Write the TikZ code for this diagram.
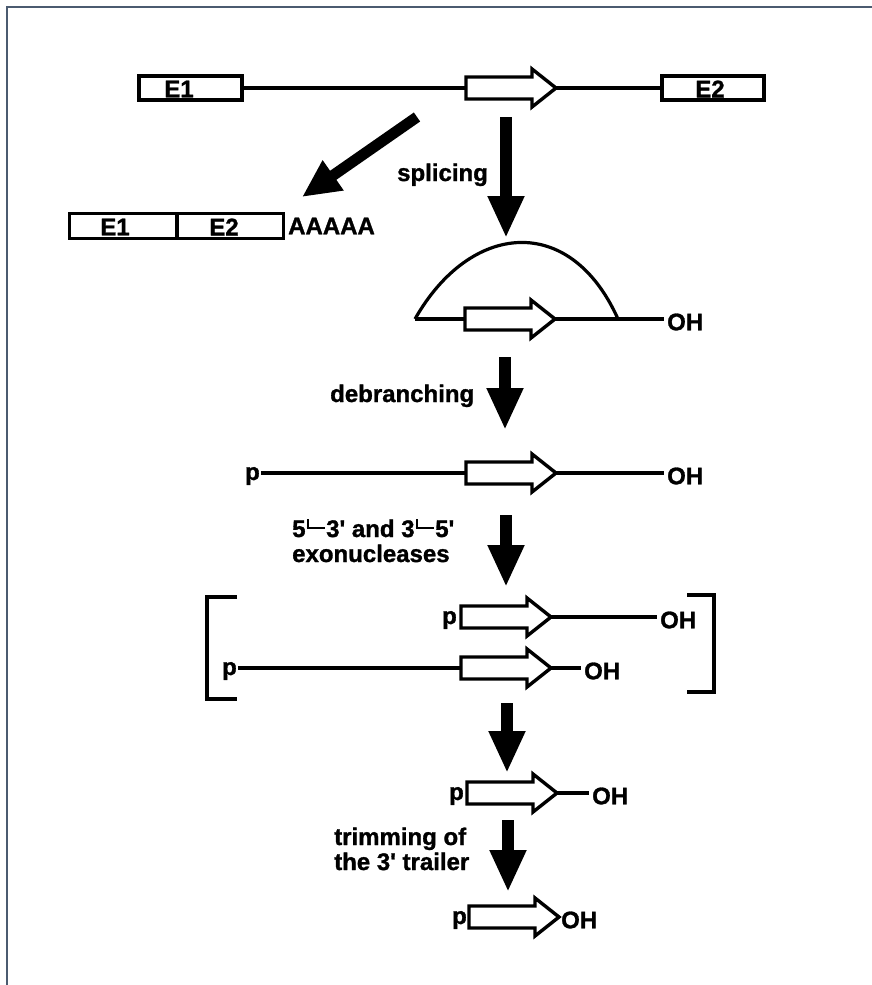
\documentclass[tikz,border=0pt]{standalone}
\usepackage{fontspec}
\setmainfont{Liberation Sans}
\newfontfamily\heavyfont{Liberation Sans Bold}[FakeBold=1.2]
\usetikzlibrary{arrows.meta}

% prime joined to a short right-pointing stroke, as in 5'-3'
\newcommand\primeto{\kern0.04em\rule[0.33em]{0.1em}{0.42em}\kern-0.1em\rule[0.33em]{0.78em}{0.1em}\kern0.04em}

\definecolor{framecol}{HTML}{4B5B70}

\begin{document}
\begin{tikzpicture}[x=1pt,y=-1pt,
  rna/.style={line width=3.2pt},
  exon/.style={draw, line width=3.6pt, fill=white, inner sep=0pt, minimum height=24pt},
  bigarrow/.style={line width=12pt, -{Triangle[width=34pt,length=42pt]}},
  lbl/.style={inner sep=0pt, font=\fontsize{24}{26}\selectfont\heavyfont},
  ohlbl/.style={lbl, inner xsep=3pt, anchor=west},
  plbl/.style={lbl, inner xsep=1pt, anchor=base east},
  gene/.pic={
    \draw[line width=3.4pt, fill=white, line join=miter]
      (0,-11) -- (0,11) -- (66,11) -- (66,19) -- (90,0) -- (66,-19) -- (66,-11) -- cycle;
    \coordinate (-w) at (0,0);
    \coordinate (-tip) at (90,0);
  }]

\useasboundingbox (0,0) rectangle (872,985);

% frame
\draw[line width=2.4pt, framecol] (7,985) -- (7,7) -- (872,7);

% precursor: exon 1 - intron - exon 2
\node[exon, minimum width=103pt] (e1) at (190.5,88) {};
\node[exon, minimum width=102pt] (e2) at (713,88) {};
\node[lbl] (e1t) at (179,89) {E1};
\node[lbl] (e2t) at (710,89) {E2};
\pic (g1) at (466,88) {gene};
\draw[rna] (e1.east) -- (g1-w);
\draw[rna] (g1-tip) -- (e2.west);

% spliced mRNA
\node[exon, minimum width=107.5pt, minimum height=25pt] (m1) at (123.25,226) {};
\node[exon, minimum width=106.5pt, minimum height=25pt] (m2) at (230.25,226) {};
\node[lbl] (m1t) at (115,227) {E1};
\node[lbl] (m2t) at (224,227) {E2};
\node[lbl, anchor=west] (polya) at (288,226) {AAAAA};

% big process arrows
\coordinate (d0) at (417,117);  \coordinate (d1) at (302,197);
\draw[bigarrow, -{Triangle[width=34pt,length=38pt]}, line width=11pt] (d0) -- (d1);
\coordinate (s0) at (506,117);  \coordinate (s1) at (506,238);
\draw[bigarrow] (s0) -- (s1);
\node[lbl, anchor=base west] (splice) at (397,181) {splicing};

% lariat
\coordinate (la) at (415,319);
\coordinate (lb) at (618,319);
\pic (g3) at (465,319) {gene};
\node[ohlbl] (oh3) at (664,322) {OH};
\draw[rna] (la) -- (g3-w);
\draw[rna] (g3-tip) -- (oh3.west |- g3-tip);
\draw[rna] (la) .. controls (470,222) and (570,212) .. (lb);

% debranching
\coordinate (b0) at (505,357);  \coordinate (b1) at (505,430);
\draw[bigarrow] (b0) -- (b1);
\node[lbl, anchor=base west] (debr) at (330,402) {debranching};

% linear intron
\pic (g4) at (466,473) {gene};
\node[plbl] (p4) at (261,480) {p};
\node[ohlbl] (oh4) at (664,476) {OH};
\draw[rna] (p4.east |- g4-w) -- (g4-w);
\draw[rna] (g4-tip) -- (oh4.west |- g4-tip);

% exonucleases
\coordinate (x0) at (506,515);  \coordinate (x1) at (506,587);
\draw[bigarrow] (x0) -- (x1);
\node[lbl, anchor=base west] (exo1) at (292,537) {5\primeto3\textquotesingle{} and 3\primeto5\textquotesingle};
\node[lbl, anchor=base west] (exo2) at (292,562) {exonucleases};

% intermediates in brackets
\draw[line width=3.6pt] (237,597) -- (207,597) -- (207,699) -- (237,699);
\draw[line width=3.6pt] (687,595) -- (714,595) -- (714,692) -- (687,692);
\pic (ga) at (461,617) {gene};
\node[plbl] (pa) at (458,624) {p};
\node[ohlbl] (oha) at (657,620) {OH};
\draw[rna] (ga-tip) -- (oha.west |- ga-tip);
\pic (gb) at (461,668) {gene};
\node[plbl] (pb) at (238,675) {p};
\node[ohlbl] (ohb) at (581,671) {OH};
\draw[rna] (pb.east |- gb-w) -- (gb-w);
\draw[rna] (gb-tip) -- (ohb.west |- gb-tip);

% second step
\coordinate (c0) at (507,703);  \coordinate (c1) at (507,773);
\draw[bigarrow] (c0) -- (c1);
\pic (g6) at (467,793) {gene};
\node[plbl] (p6) at (465,800) {p};
\node[ohlbl] (oh6) at (589,796) {OH};
\draw[rna] (g6-tip) -- (oh6.west |- g6-tip);

% trimming
\coordinate (t0) at (508,820);  \coordinate (t1) at (508,892);
\draw[bigarrow] (t0) -- (t1);
\node[lbl, anchor=base west] (trim1) at (334,845) {trimming of};
\node[lbl, anchor=base west] (trim2) at (334,870) {the 3\textquotesingle{} trailer};

% mature product
\pic (g7) at (469,917) {gene};
\node[plbl] (p7) at (468,924) {p};
\node[ohlbl, inner xsep=1pt] (oh7) at (560,920) {OH};

\end{tikzpicture}
\end{document}
